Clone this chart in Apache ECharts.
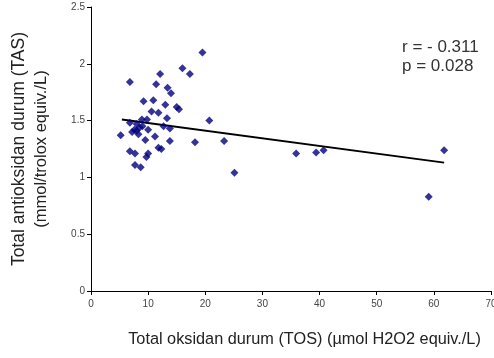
<!DOCTYPE html>
<html><head><meta charset="utf-8">
<script src="https://cdn.jsdelivr.net/npm/echarts@6/dist/echarts.min.js"></script>
<style>html,body{margin:0;padding:0;background:#fff}#c{width:494px;height:358px}</style>
</head><body><div id="c"></div>
<script>
const tosValues = [19.5,6.8,12.1,16.0,17.3,11.4,13.4,14.0,9.2,10.9,13.0,15.0,15.4,10.6,11.8,13.3,8.9,9.8,6.8,8.0,8.5,8.0,9.0,7.6,12.7,13.8,5.2,10.0,9.5,11.2,11.8,12.3,6.8,7.7,10.0,9.7,7.7,8.7,13.8,18.2,20.7,23.3,25.1,35.9,39.4,40.7,59.1,61.8,7.2,8.3];
const tasValues = [2.10,1.84,1.91,1.96,1.91,1.82,1.79,1.74,1.67,1.68,1.64,1.62,1.60,1.58,1.57,1.52,1.51,1.51,1.48,1.47,1.44,1.41,1.45,1.42,1.45,1.43,1.37,1.42,1.33,1.36,1.26,1.25,1.23,1.21,1.21,1.18,1.11,1.09,1.32,1.31,1.50,1.32,1.04,1.21,1.22,1.24,0.83,1.24,1.40,1.38];
const trendX = [5.4, 61.8];
const trendY = [1.51, 1.13];
const xTickLabels = ['0','10','20','30','40','50','60','70'];
const yTickLabels = ['0','0.5','1','1.5','2','2.5'];
const statsText = ['r = - 0.311','p = 0.028'];

const chart = echarts.init(document.getElementById('c'));
const font = 'Liberation Sans, Arial, sans-serif';
chart.setOption({
  animation:false,
  grid:{left:91,right:3,top:7,bottom:67,containLabel:false,outerBoundsMode:'none'},
  xAxis:{type:'value',min:0,max:70,interval:10,
    axisLine:{lineStyle:{color:'#000',width:1}},
    axisTick:{show:true,length:4,lineStyle:{color:'#000'}},
    splitLine:{show:false},
    axisLabel:{fontSize:10,color:'#444',fontFamily:font,margin:8,
      formatter:(v)=>xTickLabels[Math.round(v/10)]},
    name:'Total oksidan durum (TOS) (µmol H2O2 equiv./L)',
    nameLocation:'middle',nameGap:41,
    nameTextStyle:{fontSize:16.3,color:'#222',fontFamily:font,padding:[0,0,0,27]}
  },
  yAxis:{type:'value',min:0,max:2.5,interval:0.5,
    axisLine:{show:true,lineStyle:{color:'#000',width:1}},
    axisTick:{show:true,length:4,lineStyle:{color:'#000'}},
    splitLine:{show:false},
    axisLabel:{fontSize:10,color:'#444',fontFamily:font,margin:6,
      formatter:(v)=>yTickLabels[Math.round(v/0.5)]},
    name:'{a|Total antioksidan durum (TAS)}\n{b|(mmol/trolox equiv./L)}',
    nameLocation:'middle',nameGap:39,nameRotate:90,
    nameTextStyle:{color:'#222',fontFamily:font,
      rich:{a:{fontSize:17.5,lineHeight:22,color:'#222',fontFamily:font},
            b:{fontSize:16.5,lineHeight:22,color:'#222',fontFamily:font}}}
  },
  graphic:[
    {type:'text',x:402,y:47,style:{text:statsText[0],fill:'#333',font:'17px '+font,verticalAlign:'middle'}},
    {type:'text',x:402,y:66,style:{text:statsText[1],fill:'#333',font:'17px '+font,verticalAlign:'middle'}}
  ],
  series:[
    {type:'scatter',symbol:'diamond',symbolSize:8,
      itemStyle:{color:'#000080'},
      data:tosValues.map((x,i)=>[x,tasValues[i]]),z:3},
    {type:'line',symbol:'none',lineStyle:{color:'#000',width:2},
      data:trendX.map((x,i)=>[x,trendY[i]]),z:2}
  ]
});
</script></body></html>
